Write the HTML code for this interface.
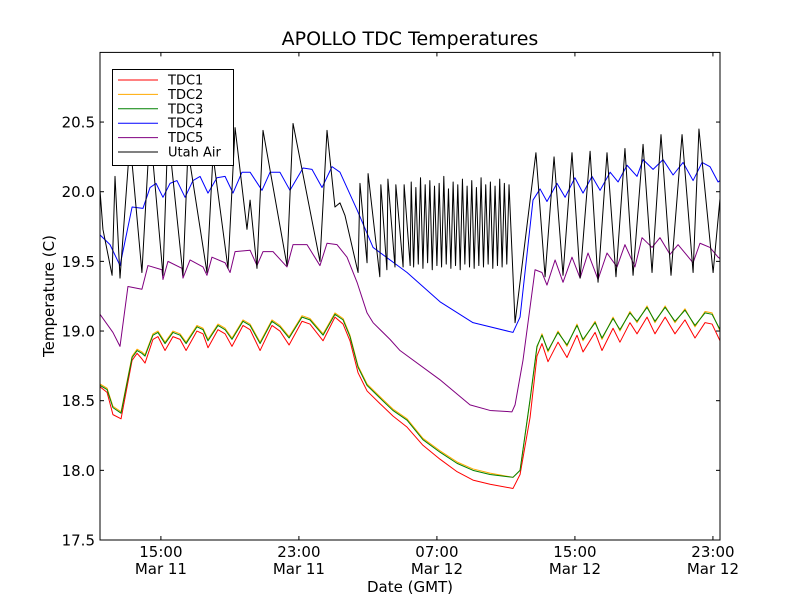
<!DOCTYPE html>
<html><head><meta charset="utf-8"><style>
html,body{margin:0;padding:0;background:#fff;}
svg{display:block;font-family:"DejaVu Sans","Liberation Sans",sans-serif;}
</style></head><body>
<svg id="chart" width="800" height="600" viewBox="0 0 800 600">
<rect x="0" y="0" width="800" height="600" fill="#fff"/>
<text x="410" y="45" text-anchor="middle" font-size="19">APOLLO TDC Temperatures</text>
<g id="plot"></g>
<text x="410" y="592" text-anchor="middle" font-size="15">Date (GMT)</text>
<text transform="translate(54,296) rotate(-90)" text-anchor="middle" font-size="15">Temperature (C)</text>
</svg>
<script>
// time in hours since Mar 11 00:00 GMT, values in °C
const xDomain = [11.47, 47.41];
const yDomain = [17.5, 21.0];
const yTicks = [17.5, 18.0, 18.5, 19.0, 19.5, 20.0, 20.5];
const yTickLabels = ["17.5", "18.0", "18.5", "19.0", "19.5", "20.0", "20.5"];
const xTicks = [15, 23, 31, 39, 47];
const xTickTimes = ["15:00", "23:00", "07:00", "15:00", "23:00"];
const xTickDates = ["Mar 11", "Mar 11", "Mar 12", "Mar 12", "Mar 12"];

const tdcTimes = [11.47,11.88,12.22,12.69,13.04,13.33,13.62,13.90,14.08,14.54,14.83,15.24,15.70,16.11,16.46,17.09,17.44,17.73,18.31,18.72,19.12,19.76,20.17,20.75,21.44,21.90,22.43,23.18,23.64,24.40,25.09,25.56,
 25.96,26.43,26.95,27.69,28.45,29.27,30.19,31.18,32.17,33.09,34.08,35.41,35.82,36.40,
 36.80,37.09,37.44,38.02,38.54,39.12,39.47,40.17,40.57,41.21,41.61,42.19,42.60,43.18,43.64,44.23,44.80,45.38,45.96,46.54,46.95,47.41];
const tdc3 = [18.61,18.58,18.45,18.41,18.63,18.81,18.86,18.84,18.82,18.97,18.99,18.91,18.99,18.97,18.91,19.03,19.01,18.93,19.04,19.01,18.94,19.07,19.04,18.91,19.07,19.03,18.95,19.10,19.08,18.97,19.12,19.08,
 18.96,18.74,18.61,18.52,18.43,18.36,18.22,18.13,18.05,18.00,17.97,17.95,18.00,18.51,
 18.89,18.97,18.86,18.99,18.90,19.04,18.94,19.06,18.95,19.09,19.01,19.13,19.07,19.17,19.07,19.17,19.07,19.15,19.04,19.13,19.12,19.01];
const tdc2 = [18.62,18.59,18.46,18.42,18.64,18.82,18.87,18.85,18.83,18.98,19.00,18.92,19.00,18.98,18.92,19.04,19.02,18.94,19.05,19.02,18.95,19.08,19.05,18.92,19.08,19.04,18.96,19.11,19.09,18.98,19.13,19.09,
 18.97,18.75,18.62,18.53,18.44,18.37,18.23,18.14,18.06,18.01,17.98,17.95,18.00,18.50,
 18.88,18.98,18.85,19.00,18.89,19.05,18.93,19.07,18.94,19.10,19.00,19.14,19.06,19.18,19.06,19.18,19.06,19.16,19.03,19.14,19.13,19.00];
const tdc1 = [18.60,18.56,18.40,18.37,18.60,18.79,18.84,18.80,18.77,18.94,18.96,18.86,18.96,18.94,18.86,19.00,18.98,18.88,19.01,18.98,18.89,19.04,19.01,18.86,19.04,19.00,18.90,19.07,19.05,18.93,19.10,19.05,
 18.93,18.70,18.57,18.48,18.39,18.31,18.18,18.08,17.99,17.93,17.90,17.87,17.97,18.38,
 18.82,18.91,18.78,18.92,18.81,18.97,18.85,18.99,18.86,19.02,18.92,19.06,18.98,19.10,18.98,19.10,18.98,19.08,18.95,19.06,19.05,18.93];

const tdc4Times = [11.47,12.05,12.63,13.33,13.96,14.37,14.72,15.12,15.53,15.93,16.40,16.86,17.27,17.73,18.25,18.72,19.18,19.70,20.17,20.86,21.33,21.90,22.48,23.24,23.76,24.34,24.92,25.38,26.37,27.30,29.27,31.18,33.09,35.41,35.82,36.57,36.98,37.38,37.96,38.43,39.00,39.47,39.99,40.46,41.04,41.50,42.02,42.60,42.95,43.53,44.11,44.69,45.27,45.85,46.37,46.83,47.30,47.41];
const tdc4 = [19.69,19.62,19.47,19.89,19.88,20.03,20.06,19.96,20.06,20.08,19.96,20.08,20.11,19.99,20.10,20.11,19.99,20.14,20.14,20.01,20.14,20.14,20.01,20.17,20.16,20.03,20.18,20.14,19.87,19.60,19.42,19.21,19.06,18.99,19.10,19.94,20.02,19.93,20.06,19.96,20.10,19.99,20.11,20.01,20.14,20.07,20.19,20.11,20.23,20.16,20.23,20.12,20.21,20.08,20.21,20.18,20.07,20.08];

const tdc5Times = [11.47,12.22,12.63,13.09,13.90,14.25,15.06,15.12,15.41,16.22,16.28,16.69,17.44,17.67,17.96,18.72,19.01,19.30,20.17,20.57,20.92,21.50,22.31,22.66,23.47,24.22,24.63,25.21,25.79,26.37,26.95,27.30,28.28,28.86,31.18,32.92,34.08,35.35,35.53,35.99,36.69,37.09,37.38,37.85,38.31,38.83,39.30,39.76,40.34,40.86,41.44,41.90,42.48,42.89,43.47,43.93,44.51,44.98,45.85,46.25,46.83,47.30,47.41];
const tdc5 = [19.12,18.99,18.89,19.32,19.30,19.47,19.44,19.37,19.50,19.45,19.38,19.51,19.46,19.40,19.53,19.49,19.42,19.57,19.58,19.47,19.57,19.57,19.46,19.62,19.62,19.47,19.63,19.62,19.53,19.35,19.13,19.06,18.94,18.86,18.65,18.47,18.43,18.42,18.47,18.79,19.44,19.42,19.33,19.51,19.35,19.53,19.38,19.56,19.37,19.56,19.46,19.62,19.46,19.67,19.60,19.67,19.55,19.62,19.49,19.63,19.60,19.53,19.52];

const airTimes = [11.47,11.64,12.17,12.34,12.63,13.21,13.90,14.37,15.12,15.41,16.28,16.57,17.67,18.02,18.89,19.30,19.99,20.17,20.57,20.92,22.31,22.66,24.22,24.63,25.09,25.38,25.67,26.43,
 26.54,26.95,27.01,27.69,27.75,28.10,28.16,28.57,28.62,29.04,29.10,29.45,29.51,
 29.65,29.78,29.92,30.05,30.19,30.32,30.46,30.59,30.73,30.86,31.00,31.13,31.27,31.40,31.54,31.67,31.81,31.94,32.08,32.21,32.35,32.48,32.62,32.75,32.89,33.02,33.16,33.29,33.43,33.56,33.70,33.83,33.97,34.10,34.24,34.37,34.51,34.64,34.78,34.91,35.05,35.18,
 35.53,36.74,37.27,37.79,38.31,38.83,39.30,39.88,40.34,40.86,41.38,41.90,42.37,42.95,43.47,43.99,44.57,45.21,45.85,46.19,47.01,47.41];
const airTemp = [20.01,19.73,19.40,20.11,19.38,20.37,19.42,20.46,19.40,20.44,19.40,20.30,19.42,20.26,19.45,20.46,19.73,19.94,19.45,20.44,19.47,20.49,19.50,20.44,19.89,19.92,19.83,19.42,
 20.06,19.49,20.13,19.39,20.05,19.44,20.09,19.46,20.05,19.46,20.05,19.47,20.07,
 19.46,20.03,19.48,20.10,19.45,20.05,19.49,20.08,19.44,20.04,19.47,20.06,19.46,20.11,19.48,20.02,19.45,20.07,19.47,20.05,19.44,20.09,19.48,20.04,19.46,20.08,19.45,20.03,19.47,20.10,19.46,20.05,19.48,20.07,19.45,20.04,19.47,20.09,19.46,20.06,19.48,20.05,
 19.06,20.28,19.39,20.25,19.40,20.28,19.38,20.29,19.35,20.28,19.39,20.31,19.40,20.34,19.42,20.41,19.40,20.41,19.42,20.45,19.42,19.95];

const L = 100, R = 720, T = 52.4, B = 540;
function xs(h){ return L + (h - xDomain[0]) / (xDomain[1] - xDomain[0]) * (R - L); }
function ys(v){ return B - (v - yDomain[0]) / (yDomain[1] - yDomain[0]) * (B - T); }
const NS = "http://www.w3.org/2000/svg";
const plot = document.getElementById('plot');
function mk(tag, attrs, parent){
  const e = document.createElementNS(NS, tag);
  for (const k in attrs) e.setAttribute(k, attrs[k]);
  (parent || plot).appendChild(e);
  return e;
}
const defs = mk('defs', {});
const cp = mk('clipPath', {id:'clip'}, defs);
mk('rect', {x:L, y:T, width:R-L, height:B-T}, cp);

const series = [
  {name:'tdc1-line', t:tdcTimes, v:tdc1, c:'#ff0000'},
  {name:'tdc2-line', t:tdcTimes, v:tdc2, c:'#ffaa00'},
  {name:'tdc3-line', t:tdcTimes, v:tdc3, c:'#008000'},
  {name:'tdc4-line', t:tdc4Times, v:tdc4, c:'#0000ff'},
  {name:'tdc5-line', t:tdc5Times, v:tdc5, c:'#800080'},
  {name:'utah-air-line', t:airTimes, v:airTemp, c:'#000000'}
];
const g = mk('g', {'clip-path':'url(#clip)'});


series.forEach(s => {
  const pts = s.t.map((t,i) => xs(t).toFixed(2) + ',' + ys(s.v[i]).toFixed(2)).join(' ');
  const pl = mk('polyline', {points:pts, fill:'none', stroke:s.c, 'stroke-width':1, 'stroke-linejoin':'round'}, g);
  
  
});

const fr = mk('rect', {x:L, y:T, width:R-L, height:B-T, fill:'none', stroke:'#000', 'stroke-width':1});



yTicks.forEach((v,i) => {
  const y = ys(v);
  mk('line', {x1:L, x2:L+4, y1:y, y2:y, stroke:'#000'});
  mk('line', {x1:R-4, x2:R, y1:y, y2:y, stroke:'#000'});
  const tx = mk('text', {x:L-5, y:y+5.5, 'text-anchor':'end', 'font-size':15});
  tx.textContent = yTickLabels[i];
  
  
});
xTicks.forEach((h,i) => {
  const x = xs(h);
  mk('line', {x1:x, x2:x, y1:B, y2:B-4, stroke:'#000'});
  mk('line', {x1:x, x2:x, y1:T, y2:T+4, stroke:'#000'});
  const t1 = mk('text', {x:x, y:B+17, 'text-anchor':'middle', 'font-size':15});
  t1.textContent = xTickTimes[i];
  
  
  const t2 = mk('text', {x:x, y:B+34, 'text-anchor':'middle', 'font-size':15});
  t2.textContent = xTickDates[i];
  
  
});

const lg = mk('g', {});


mk('rect', {x:112.5, y:69.5, width:121, height:96, fill:'#fff', stroke:'#000', 'stroke-width':1}, lg);
const legendLabels = ['TDC1','TDC2','TDC3','TDC4','TDC5','Utah Air'];
series.forEach((s,i) => {
  const y = 80 + i*14.4;
  const ln = mk('line', {x1:118, x2:158, y1:y, y2:y, stroke:s.c, 'stroke-width':1}, lg);
  
  
  const tx = mk('text', {x:168, y:y+4.5, 'font-size':13}, lg);
  tx.textContent = legendLabels[i];
  
  
});
</script>
</body></html>
